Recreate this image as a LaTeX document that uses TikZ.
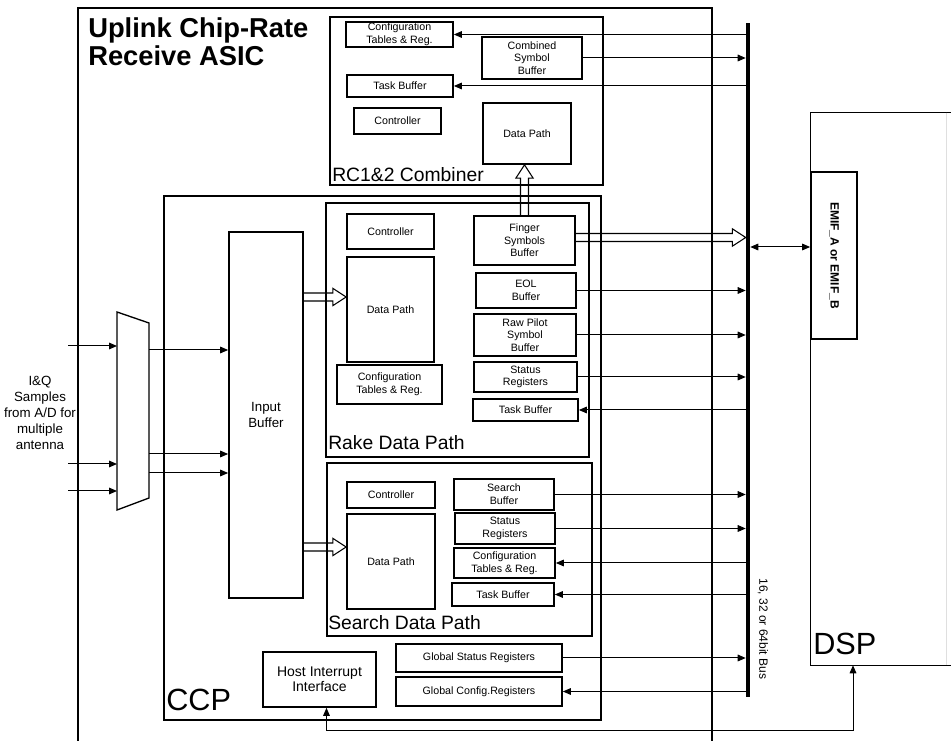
\documentclass[tikz,border=0pt]{standalone}
\usepackage{fontspec}
\setmainfont{Liberation Sans}
\usetikzlibrary{calc,fit,arrows.meta}

\begin{document}
\begin{tikzpicture}[x=0.75pt, y=-0.75pt,
  box/.style={draw, line width=1.3pt, inner sep=0pt},
  txt/.style={inner sep=0pt, align=center, font=\fontsize{8}{9.5}\selectfont},
  tx/.style={label={[txt]center:{#1}}},
  frame/.style={draw, line width=1pt, inner sep=0pt},
  conn/.style={line width=0.75pt},
  arr/.style={conn, -{Triangle[length=6pt,width=5pt]}},
  rarr/.style={conn, {Triangle[length=6pt,width=5pt]}-},
  darr/.style={conn, {Triangle[length=6pt,width=5pt]}-{Triangle[length=6pt,width=5pt]}},
  biglbl/.style={inner sep=0pt, anchor=base west, font=\fontsize{14.5}{16}\selectfont},
  hugelbl/.style={inner sep=0pt, anchor=base west, font=\fontsize{23}{26}\selectfont},
  fatarrow/.style={line width=0.8pt, to path={
    ($(\tikztostart)!3pt!90:(\tikztotarget)$)
    -- ($($(\tikztotarget)!10pt!(\tikztostart)$)!3pt!90:(\tikztotarget)$)
    -- ($($(\tikztotarget)!10pt!(\tikztostart)$)!6.5pt!90:(\tikztotarget)$)
    -- (\tikztotarget)
    -- ($($(\tikztotarget)!10pt!(\tikztostart)$)!6.5pt!-90:(\tikztotarget)$)
    -- ($($(\tikztotarget)!10pt!(\tikztostart)$)!3pt!-90:(\tikztotarget)$)
    -- ($(\tikztostart)!3pt!-90:(\tikztotarget)$)}}]
\useasboundingbox (0,0) rectangle (951,741);

%% --- ASIC frame and title ---
\draw[frame] (78,741) -- (78,8) -- (712,8) -- (712,741);
\node[inner sep=0pt, anchor=north west, align=left, font=\bfseries\fontsize{20.5}{21}\selectfont] (title) at (88,17) {Uplink Chip-Rate\\Receive ASIC};

%% --- RC1&2 combiner ---
\node[frame, fit={(330,17)(603,185)}] (comb) {};
\node[biglbl] (comblbl) at (332,182) {RC1\&2 Combiner};
\node[box, fit={(346,22)(453,47)}, tx={Configuration\\Tables \& Reg.}] (ccfg) {};
\node[box, fit={(482,37)(582,79)}, tx={Combined\\Symbol\\Buffer}] (csb) {};
\node[box, fit={(347,75)(453,97)}, tx={Task Buffer}] (ctask) {};
\node[box, fit={(354,108)(441,134)}, tx={Controller}] (cctl) {};
\node[box, fit={(483,103)(571,164)}, tx={Data Path}] (cdp) {};

%% --- CCP ---
\node[frame, fit={(164,196)(601,720)}] (ccp) {};
\node[hugelbl] (ccplbl) at (166,711) {CCP};
\node[box, fit={(229,232)(303,598)},
  label={[txt, font=\fontsize{10}{12}\selectfont]center:{Input\\Buffer}}] (ib) {};

% rake
\node[frame, fit={(326,203)(589,457)}] (rake) {};
\node[biglbl] (rakelbl) at (328,450) {Rake Data Path};
\node[box, fit={(347,214)(434,249)}, tx={Controller}] (rctl) {};
\node[box, fit={(347,257)(434,362)}, tx={Data Path}] (rdp) {};
\node[box, fit={(337,365)(442,404)}, tx={Configuration\\Tables \& Reg.}] (rcfg) {};
\node[box, fit={(474,216)(575,265)}, tx={Finger\\Symbols\\Buffer}] (finger) {};
\node[box, fit={(476,273)(576,308)}, tx={EOL\\Buffer}] (eol) {};
\node[box, fit={(474,314)(576,356)}, tx={Raw Pilot\\Symbol\\Buffer}] (pilot) {};
\node[box, fit={(474,362)(577,392)}, tx={Status\\Registers}] (rstat) {};
\node[box, fit={(473,399)(578,421)}, tx={Task Buffer}] (rtask) {};

% search
\node[frame, fit={(327,463)(592,636)}] (search) {};
\node[biglbl] (searchlbl) at (328,630) {Search Data Path};
\node[box, fit={(347,482)(435,508)}, tx={Controller}] (sctl) {};
\node[box, fit={(347,514)(435,609)}, tx={Data Path}] (sdp) {};
\node[box, fit={(454,479)(554,510)}, tx={Search\\Buffer}] (sbuf) {};
\node[box, fit={(455,513)(555,544)}, tx={Status\\Registers}] (sstat) {};
\node[box, fit={(454,548)(555,578)}, tx={Configuration\\Tables \& Reg.}] (scfg) {};
\node[box, fit={(452,583)(554,606)}, tx={Task Buffer}] (stask) {};

% global
\node[box, fit={(396,644)(562,672)}, tx={Global Status Registers}] (gstat) {};
\node[box, fit={(396,677)(562,706)}, tx={Global Config.Registers}] (gcfg) {};
\node[box, fit={(263,652)(376,707)},
  label={[txt, font=\fontsize{10.5}{11}\selectfont]center:{Host Interrupt\\Interface}}] (hii) {};

%% --- Bus and DSP ---
\node[fill, inner sep=0pt, fit={(746,23)(750,697)}] (bus) {};
\node[rotate=-90, inner sep=0pt, font=\fontsize{9}{10}\selectfont] (buslbl) at (763,629) {16, 32 or 64bit Bus};
\node[inner sep=0pt, fit={(811,113)(951,665)}] (dsp) {};
\draw[frame] (dsp.north east) -- (dsp.north west) -- (dsp.south west) -- (dsp.south east);
\draw[gray!25, line width=0.6pt] ([xshift=-3.75pt]dsp.north east) -- ([xshift=-3.75pt]dsp.south east);
\node[hugelbl] (dsplbl) at (813,655) {DSP};
\node[box, fit={(811,172)(857,339)}] (emif) {};
\node[rotate=-90, inner sep=0pt, font=\bfseries\fontsize{9}{10}\selectfont] (emiflbl) at (emif) {EMIF\_A or EMIF\_B};
\coordinate (emifin) at ($(emif.west)+(0,-8.5)$);
\draw[darr] (bus.east |- emifin) -- (emifin);

%% --- Mux and antenna inputs ---
\draw[frame] (117,312) -- (149,323) -- (149,498) -- (117,510) -- cycle;
\coordinate (muxw) at (117,312);
\node[align=center, inner sep=0pt, font=\fontsize{10}{12}\selectfont] (iq) at (40,413) {I\&Q\\Samples\\from A/D for\\multiple\\antenna};
\coordinate (iq1) at (68,346);
\coordinate (iq2) at (68,464);
\coordinate (iq3) at (68,491);
\foreach \c in {iq1,iq2,iq3}
  \draw[arr] (\c) -- (\c -| muxw);
\coordinate (mx1) at (149,350);
\coordinate (mx2) at (149,454);
\coordinate (mx3) at (149,473);
\foreach \c in {mx1,mx2,mx3}
  \draw[arr] (\c) -- (\c -| ib.west);

%% --- Wide data arrows ---
\coordinate (rdpin) at ($(rdp.west)+(0,-12.5)$);
\coordinate (rdpout) at (ib.east |- rdpin);
\draw[fatarrow] (rdpout) to (rdpin);
\coordinate (sdpin) at ($(sdp.west)+(0,-14.5)$);
\coordinate (sdpout) at (ib.east |- sdpin);
\draw[fatarrow] (sdpout) to (sdpin);
\coordinate (fingtop) at (finger.north);
\coordinate (cdpin) at (finger.north |- cdp.south);
\draw[fatarrow] (fingtop) to (cdpin);
\coordinate (fingright) at ($(finger.east)+(0,-3)$);
\coordinate (fingbus) at (fingright -| bus.west);
\draw[fatarrow] (fingright) to (fingbus);

%% --- Bus connections ---
\foreach \b in {csb,eol,pilot,rstat,sbuf,sstat,gstat}
  \draw[arr] (\b.east) -- (\b.east -| bus.west);
\foreach \b in {ccfg,ctask,rtask,scfg,stask,gcfg}
  \draw[rarr] (\b.east) -- (\b.east -| bus.west);

%% --- Host interrupt loop ---
\coordinate (hiiin) at ($(hii.south)+(7,0)$);
\coordinate (loop) at (853,731);
\draw[darr] (hiiin) |- (loop) -| (dsp.south -| loop);
\end{tikzpicture}
\end{document}
